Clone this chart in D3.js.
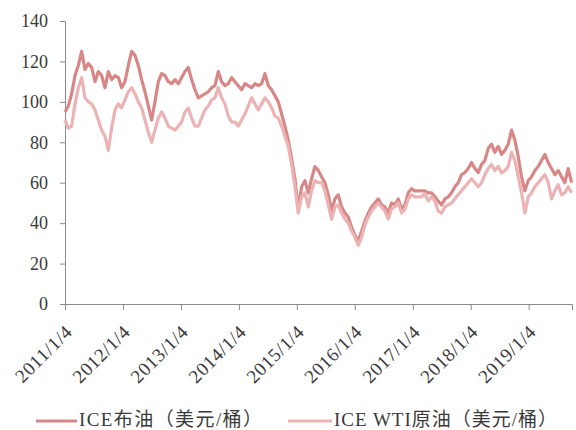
<!DOCTYPE html>
<html>
<head>
<meta charset="utf-8">
<script src="https://cdn.jsdelivr.net/npm/d3@7"></script>
<style>
  html, body { margin: 0; padding: 0; background: #fff; }
  svg { display: block; }
  .tick text { font-family: "Liberation Serif", "Times New Roman", serif; fill: #3a3a3a; }
</style>
</head>
<body>
<svg id="chart" width="576" height="430"></svg>
<script>
// Crude oil prices (USD/bbl), sampled every 21 days from 2011-01-04
const sampleStart = "2011-01-04";
const sampleStepDays = 21;

const brent = [
  95, 98, 104, 113, 118, 125, 116, 119, 117, 110, 115, 113, 107, 115, 111, 113, 112, 107,
  110, 118, 125, 123, 118, 111, 105, 98, 91, 100, 110, 114, 113, 110, 109, 111, 109, 112,
  115, 117, 111, 106, 102, 103, 104, 105, 107, 108, 115, 110, 108, 109, 112, 110, 108, 106,
  109, 108, 107, 109, 108, 109, 114, 108, 106, 103, 100, 94, 88, 81, 72, 62,
  47, 58, 61, 55, 62, 68, 66, 63, 60, 54, 46, 52, 54, 48, 45, 43, 38,
  34, 31, 36, 41, 45, 48, 50, 52, 49, 48, 45, 50, 49, 52, 47, 49, 55, 57,
  56, 56, 56, 56, 55, 55, 53, 51, 49, 52, 53, 55, 58, 60, 64, 65, 67, 70,
  67, 65, 69, 71, 77, 79, 75, 78, 74, 76, 79, 86, 81, 73, 63, 56,
  61, 63, 66, 68, 71, 74, 70, 67, 64, 66, 63, 60, 67, 60
];

const wti = [
  91, 87, 88, 99, 107, 112, 102, 100, 99, 96, 91, 86, 83, 76, 87, 96, 99, 97,
  101, 105, 107, 104, 100, 97, 91, 85, 80, 86, 92, 95, 92, 88, 87, 86, 88, 90,
  95, 97, 92, 88, 88, 92, 96, 98, 101, 102, 107, 102, 99, 93, 90, 90, 88, 91,
  94, 98, 102, 99, 96, 99, 102, 100, 97, 93, 92, 88, 83, 78, 69, 58,
  45, 53, 55, 48, 56, 61, 60, 60, 56, 49, 42, 48, 49, 45, 42, 40, 36,
  33, 29, 33, 39, 43, 46, 48, 50, 48, 46, 42, 47, 48, 50, 45, 47, 52, 54,
  53, 53, 53, 54.7, 51, 53, 51, 46, 45, 48, 49, 50, 52, 54, 56, 58, 60, 62,
  60, 58, 60, 64, 67, 69, 66, 68, 65, 66, 68, 75, 71, 63, 55, 45,
  53, 55, 58, 60, 62, 64, 60, 52, 56, 59, 54, 55, 58, 55
];

const yTicks = [0, 20, 40, 60, 80, 100, 120, 140];
const xTickDates = ["2011-01-04", "2012-01-04", "2013-01-04", "2014-01-04", "2015-01-04",
                    "2016-01-04", "2017-01-04", "2018-01-04", "2019-01-04"];
const seriesNames = ["ICE布油（美元/桶）", "ICE WTI原油（美元/桶）"];
const seriesColors = ["#d88787", "#ebb3b3"];

const parse = d3.timeParse("%Y-%m-%d");
const start = parse(sampleStart);
const dates = brent.map((_, i) => d3.timeDay.offset(start, i * sampleStepDays));

const svg = d3.select("#chart");
const plot = { left: 65, right: 572, top: 21, bottom: 304 };

const x = d3.scaleTime()
  .domain([start, parse("2019-10-04")])
  .range([plot.left, plot.right]);
const y = d3.scaleLinear()
  .domain([0, 140])
  .range([plot.bottom, plot.top]);

// y axis
const yAxis = svg.append("g")
  .attr("transform", `translate(${plot.left},0)`)
  .call(d3.axisLeft(y).tickValues(yTicks).tickSize(5).tickPadding(12));
yAxis.selectAll("text").style("font-size", "18px");

// x axis with rotated date labels
const xAxis = svg.append("g")
  .attr("transform", `translate(0,${plot.bottom})`)
  .call(d3.axisBottom(x)
    .tickValues(xTickDates.map(parse))
    .tickSize(6)
    .tickFormat(d3.timeFormat("%Y/%-m/%-d")));
xAxis.selectAll("text")
  .style("font-size", "19px")
  .style("letter-spacing", "0.6px")
  .attr("text-anchor", "end")
  .attr("dy", null)
  .attr("y", 0)
  .attr("transform", "translate(8,29) rotate(-45)");

svg.selectAll(".domain, .tick line").attr("stroke", "#8c8c8c").attr("stroke-width", 1);

// price lines (Brent first, WTI drawn over it)
const line = d3.line()
  .x((d, i) => x(dates[i]))
  .y(d => y(d));

[brent, wti].forEach((vals, k) => {
  svg.append("path")
    .datum(vals)
    .attr("fill", "none")
    .attr("stroke", seriesColors[k])
    .attr("stroke-width", 3.2)
    .attr("stroke-linejoin", "round")
    .attr("d", line);
});

// legend
const legendItems = [{ x0: 36, x1: 77, w: 183 }, { x0: 288, x1: 332, w: 223 }];
const legendY = 421;
legendItems.forEach((p, k) => {
  svg.append("line")
    .attr("x1", p.x0).attr("x2", p.x1)
    .attr("y1", legendY).attr("y2", legendY)
    .attr("stroke", seriesColors[k])
    .attr("stroke-width", 3);
  svg.append("text")
    .attr("x", p.x1 + 2)
    .attr("y", legendY + 5)
    .attr("font-family", "'Liberation Serif', 'Noto Sans CJK SC', serif")
    .attr("font-size", 19)
    .attr("fill", "#3a3a3a")
    .attr("textLength", p.w)
    .attr("lengthAdjust", "spacing")
    .text(seriesNames[k]);
});
</script>
</body>
</html>
